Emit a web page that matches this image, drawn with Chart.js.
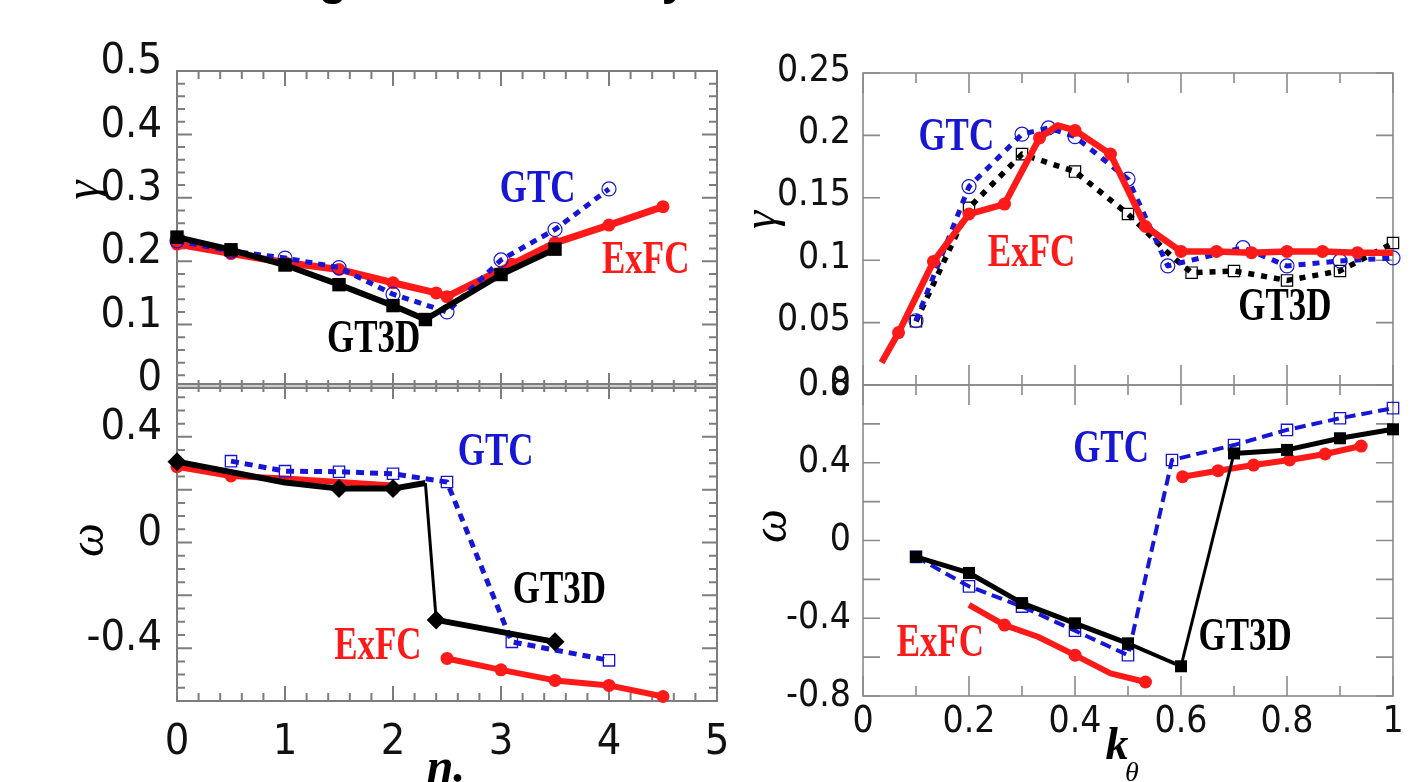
<!DOCTYPE html>
<html>
<head>
<meta charset="utf-8">
<title>gamma / omega benchmark</title>
<script src="https://cdn.jsdelivr.net/npm/chart.js@4.4.1/dist/chart.umd.min.js"></script>
<style>
  html, body { margin: 0; padding: 0; background: #fff; }
  #page { position: relative; width: 1428px; height: 782px; overflow: hidden; }
  #page canvas { position: absolute; left: 0; top: 0; }
</style>
</head>
<body>
<div id="page">
  <canvas id="etaGamma" width="1428" height="782"></canvas>
  <canvas id="etaOmega" width="1428" height="782"></canvas>
  <canvas id="kGamma" width="1428" height="782"></canvas>
  <canvas id="kOmega" width="1428" height="782"></canvas>
</div>
<script>
// ---------- left column: eta scan ----------
const etaTicks = [0, 1, 2, 3, 4, 5];
const gammaEtaTicks = [0, 0.1, 0.2, 0.3, 0.4, 0.5];
const omegaEtaTicks = [-0.4, 0, 0.4];

// growth rate vs eta
const etaGT3D = [0, 0.5, 1, 1.5, 2, 2.3, 3, 3.5];
const gammaGT3D = [0.238, 0.218, 0.194, 0.163, 0.13, 0.108, 0.179, 0.219];
const etaGTC = [0, 0.5, 1, 1.5, 2, 2.5, 3, 3.5, 4];
const gammaGTC = [0.232, 0.216, 0.205, 0.19, 0.148, 0.12, 0.202, 0.25, 0.314];
const etaExFC = [0, 0.5, 1, 1.5, 2, 2.4, 2.5, 3.1, 3.5, 4, 4.5];
const gammaExFC = [0.227, 0.212, 0.198, 0.187, 0.166, 0.15, 0.144, 0.195, 0.229, 0.257, 0.286];

// real frequency vs eta
const etaOmGT3D = [0, 1, 1.5, 2, 2.3, 2.4, 3.5];
const omegaGT3D = [0.306, 0.227, 0.204, 0.204, 0.225, -0.293, -0.376];
const etaOmGTC = [0.5, 1, 1.5, 2, 2.5, 3.1, 4];
const omegaGTC = [0.308, 0.27, 0.268, 0.26, 0.229, -0.376, -0.446];
const etaOmExFC = [0, 0.5, 1, 1.5, 2, 2.25, 2.5, 3, 3.5, 4, 4.5];
const omegaExFC = [0.287, 0.252, 0.242, 0.229, 0.216, null, -0.439, -0.482, -0.522, -0.541, -0.583];

// ---------- right column: k_theta scan ----------
const kTicks = [0, 0.2, 0.4, 0.6, 0.8, 1];
const gammaKTicks = [0, 0.05, 0.1, 0.15, 0.2, 0.25];
const omegaKTicks = [-0.8, -0.4, 0, 0.4, 0.8];

// growth rate vs k_theta
const kGT3D = [0.1, 0.2, 0.3, 0.4, 0.5, 0.58, 0.62, 0.7, 0.8, 0.9, 1];
const gammaKGT3D = [0.051, 0.142, 0.185, 0.171, 0.137, 0.104, 0.09, 0.0914, 0.0838, 0.0914, 0.1138];
const kGTC = [0.1, 0.2, 0.3, 0.35, 0.4, 0.5, 0.575, 0.717, 0.8, 0.9, 1];
const gammaKGTC = [0.0515, 0.159, 0.201, 0.206, 0.199, 0.165, 0.0954, 0.11, 0.0954, 0.0994, 0.1018];
const kExFC = [0.035, 0.067, 0.133, 0.2, 0.267, 0.333, 0.367, 0.4, 0.467, 0.533, 0.6, 0.667, 0.733, 0.8, 0.867, 0.933, 1];
const gammaKExFC = [0.018, 0.042, 0.099, 0.137, 0.145, 0.198, 0.208, 0.204, 0.185, 0.127, 0.107, 0.107, 0.106, 0.107, 0.107, 0.106, 0.106];

// real frequency vs k_theta
const kOmGT3D = [0.1, 0.2, 0.3, 0.4, 0.5, 0.6, 0.7, 0.8, 0.9, 1];
const omegaKGT3D = [-0.084, -0.167, -0.322, -0.426, -0.529, -0.647, 0.448, 0.466, 0.526, 0.572];
const kOmGTC = [0.1, 0.2, 0.3, 0.4, 0.5, 0.583, 0.7, 0.8, 0.9, 1];
const omegaKGTC = [-0.084, -0.236, -0.34, -0.464, -0.59, 0.414, 0.491, 0.569, 0.629, 0.681];
const kOmExFC = [0.2, 0.267, 0.33, 0.4, 0.467, 0.533, 0.567, 0.603, 0.67, 0.737, 0.805, 0.872, 0.94];
const omegaKExFC = [-0.331, -0.435, -0.495, -0.59, -0.684, -0.728, null, 0.328, 0.359, 0.388, 0.414, 0.445, 0.486];

// which points carry a marker (1) and which are bare line vertices (0)
const omegaGT3DMarks = [1, 0, 1, 1, 0, 1, 1];
const omegaExFCMarks = [1, 1, 0, 0, 0, 0, 1, 1, 1, 1, 1];
const gammaKGT3DMarks = [1, 1, 1, 1, 1, 0, 1, 1, 1, 1, 1];
const gammaKExFCMarks = [0, 1, 1, 1, 1, 1, 0, 1, 1, 1, 1, 1, 1, 1, 1, 1, 0];
const omegaKExFCMarks = [0, 1, 0, 1, 0, 1, 0, 1, 1, 1, 1, 1, 1];

const RED = '#ff1a1a';
const BLUE = '#1616d4';
const BLACK = '#000';
const NUM_FONT = "'Liberation Sans Narrow', 'Arial Narrow', 'DejaVu Sans Condensed', 'Liberation Sans', sans-serif";
const SERIF = "'Liberation Serif', 'DejaVu Serif', serif";
const NOTE_FONT = 'bold 46px ' + SERIF;
const NONE = 'rgba(0,0,0,0)';

function series(xs, ys, style) {
    return Object.assign({
        data: xs.map((x, i) => ({ x: x, y: ys[i] })),
        tension: 0,
        clip: false,
        spanGaps: false,
        borderCapStyle: 'butt',
        borderJoinStyle: 'round',
        pointHoverRadius: 0
    }, style);
}

const radii = (marks, r) => marks.map(m => (m ? r : 0));

// Frame with inward tick marks on all four sides
function framePlugin(spec) {
    return {
        id: 'frame',
        beforeDatasetsDraw(chart) {
            const ctx = chart.ctx;
            const a = chart.chartArea;
            const sx = chart.scales.x;
            const sy = chart.scales.y;
            ctx.save();
            if (spec.band) {
                ctx.fillStyle = '#cdcdcd';
                ctx.fillRect(a.left, a.top, a.right - a.left, spec.band);
            }
            ctx.strokeStyle = spec.color;
            ctx.lineWidth = spec.width;
            ctx.strokeRect(a.left, a.top, a.right - a.left, a.bottom - a.top);
            const walk = (scale, step, fn) => {
                const n = Math.round((scale.max - scale.min) / step);
                for (let i = 0; i <= n; i++) fn(scale.getPixelForValue(scale.min + i * step));
            };
            ctx.beginPath();
            spec.x.forEach(t => walk(sx, t.step, p => {
                ctx.moveTo(p, a.bottom); ctx.lineTo(p, a.bottom - t.len);
                ctx.moveTo(p, a.top); ctx.lineTo(p, a.top + t.len);
            }));
            spec.y.forEach(t => walk(sy, t.step, p => {
                ctx.moveTo(a.left, p); ctx.lineTo(a.left + t.len, p);
                ctx.moveTo(a.right, p); ctx.lineTo(a.right - t.len, p);
            }));
            ctx.stroke();
            ctx.restore();
        }
    };
}

// Free text: curve names (placed in data units) and axis titles (pixels)
function notesPlugin(items) {
    return {
        id: 'notes',
        afterDraw(chart) {
            const ctx = chart.ctx;
            items.forEach(n => {
                let px = n.at ? chart.scales.x.getPixelForValue(n.at[0]) : n.px;
                const py = n.at ? chart.scales.y.getPixelForValue(n.at[1]) : n.py;
                ctx.save();
                ctx.font = n.font || NOTE_FONT;
                if (n.fit) {
                    // size the cut-off heading so its two descenders land where they show in the slide
                    const f = n.fit;
                    ctx.font = f.weight + ' ' + f.size + 'px ' + f.family;
                    const w = s => ctx.measureText(s).width;
                    const span = w(f.from + f.mid) + w(f.to) / 2 - w(f.from) / 2;
                    const size = Math.round(f.size * (f.x2 - f.x1) / span);
                    ctx.font = f.weight + ' ' + size + 'px ' + f.family;
                    px = f.x1 - ctx.measureText(f.lead).width - ctx.measureText(f.from).width / 2;
                }
                ctx.translate(px, py);
                if (n.rot) ctx.rotate(n.rot);
                ctx.scale(n.sx || 1, 1);
                ctx.fillStyle = n.color || BLACK;
                ctx.textAlign = n.align || 'center';
                ctx.textBaseline = n.base || 'middle';
                ctx.fillText(n.text, 0, 0);
                ctx.restore();
            });
        }
    };
}

function makePanel(id, p) {
    const xAxisH = p.xTicks ? 782 - p.box.bottom : 0;
    return new Chart(document.getElementById(id), {
        type: 'line',
        data: { datasets: p.datasets },
        options: {
            responsive: false,
            animation: false,
            events: [],
            layout: {
                padding: {
                    left: p.box.left - p.yAxisW,
                    top: p.box.top,
                    right: 1428 - p.box.right,
                    bottom: 782 - p.box.bottom - xAxisH
                }
            },
            plugins: { legend: { display: false }, tooltip: { enabled: false } },
            scales: {
                x: {
                    type: 'linear',
                    min: p.xMin,
                    max: p.xMax,
                    display: !!p.xTicks,
                    grid: { display: false, drawTicks: false },
                    border: { display: false },
                    ticks: {
                        display: !!p.xTicks,
                        color: '#111',
                        font: { family: NUM_FONT, size: p.tickSize, lineHeight: 1 },
                        padding: p.xPad || 0,
                        maxRotation: 0,
                        autoSkip: false,
                        callback: v => String(v)
                    },
                    afterBuildTicks: s => { if (p.xTicks) s.ticks = p.xTicks.map(v => ({ value: v })); },
                    afterFit: s => { s.height = xAxisH; }
                },
                y: {
                    type: 'linear',
                    min: p.yMin,
                    max: p.yMax,
                    grid: { display: false, drawTicks: false },
                    border: { display: false },
                    ticks: {
                        color: '#111',
                        font: { family: NUM_FONT, size: p.tickSize, lineHeight: 1 },
                        padding: p.yPad,
                        labelOffset: p.labelOffset || 0,
                        autoSkip: false,
                        callback: v => String(v)
                    },
                    afterBuildTicks: s => { s.ticks = p.yTicks.map(v => ({ value: v })); },
                    afterFit: s => { s.width = p.yAxisW; }
                }
            }
        },
        plugins: [framePlugin(p.frame), notesPlugin(p.notes)]
    });
}

const leftFrameX = [{ step: 0.2, len: 8 }, { step: 1, len: 15 }];
const rightFrameX = [{ step: 0.1, len: 10 }, { step: 0.2, len: 20 }];

// ---- left top: gamma vs eta ----
makePanel('etaGamma', {
    box: { left: 177, top: 71, right: 717, bottom: 388 },
    xMin: 0, xMax: 5, yMin: 0, yMax: 0.5,
    xTicks: null, yTicks: gammaEtaTicks,
    yAxisW: 160, yPad: 15, labelOffset: -9, tickSize: 43,
    frame: { color: '#7d7d7d', width: 2, x: leftFrameX, y: [{ step: 0.02, len: 8 }, { step: 0.1, len: 15 }] },
    datasets: [
        series(etaGT3D, gammaGT3D, {
            label: 'GT3D', order: 1, borderColor: BLACK, borderWidth: 6,
            pointStyle: 'rect', pointRadius: 9.5, pointBackgroundColor: BLACK, pointBorderWidth: 0
        }),
        series(etaGTC, gammaGTC, {
            label: 'GTC', order: 2, borderColor: BLUE, borderWidth: 5, borderDash: [7, 6],
            pointStyle: 'circle', pointRadius: 7, pointBackgroundColor: NONE,
            pointBorderColor: BLUE, pointBorderWidth: 1.2
        }),
        series(etaExFC, gammaExFC, {
            label: 'ExFC', order: 3, borderColor: RED, borderWidth: 7,
            pointStyle: 'circle', pointRadius: 6.5, pointBackgroundColor: RED, pointBorderWidth: 0
        })
    ],
    notes: [
        { text: 'Benchmarking of ITG mode by three codes', py: -5, align: 'left', base: 'alphabetic',
          fit: { lead: 'Benchmarkin', from: 'g', mid: ' of ITG mode b', to: 'y', x1: 333, x2: 677,
                 size: 46, weight: 'bold', family: "'Liberation Sans', Arial, sans-serif" } },
        { text: 'GTC', at: [3.34, 0.312], color: BLUE, sx: 0.76 },
        { text: 'ExFC', at: [4.34, 0.2], color: RED, sx: 0.76 },
        { text: 'GT3D', at: [1.82, 0.075], color: BLACK, sx: 0.76 },
        { text: 'γ', px: 85, py: 190, rot: -Math.PI / 2, font: 'italic 48px ' + SERIF }
    ]
});

// ---- left bottom: omega vs eta ----
makePanel('etaOmega', {
    box: { left: 177, top: 384, right: 717, bottom: 701 },
    xMin: 0, xMax: 5, yMin: -0.6, yMax: 0.6,
    xTicks: etaTicks, yTicks: omegaEtaTicks,
    yAxisW: 160, yPad: 15, labelOffset: -9, tickSize: 43, xPad: 20,
    frame: { color: '#7d7d7d', width: 2, band: 3, x: leftFrameX, y: [{ step: 0.05, len: 8 }, { step: 0.2, len: 15 }] },
    datasets: [
        series(etaOmGT3D, omegaGT3D, {
            label: 'GT3D', order: 1, borderColor: BLACK, borderWidth: 6,
            segment: { borderWidth: c => (c.p0DataIndex === 4 ? 3 : 6) },
            pointStyle: 'rectRot', pointRadius: radii(omegaGT3DMarks, 9.5),
            pointBackgroundColor: BLACK, pointBorderWidth: 0
        }),
        series(etaOmGTC, omegaGTC, {
            label: 'GTC', order: 2, borderColor: BLUE, borderWidth: 5, borderDash: [8, 6],
            pointStyle: 'rect', pointRadius: 8, pointBackgroundColor: NONE,
            pointBorderColor: BLUE, pointBorderWidth: 1.3
        }),
        series(etaOmExFC, omegaExFC, {
            label: 'ExFC', order: 3, borderColor: RED, borderWidth: 6,
            pointStyle: 'circle', pointRadius: radii(omegaExFCMarks, 6.5),
            pointBackgroundColor: RED, pointBorderWidth: 0
        })
    ],
    notes: [
        { text: 'GTC', at: [2.95, 0.338], color: BLUE, sx: 0.76 },
        { text: 'GT3D', at: [3.54, -0.185], color: BLACK, sx: 0.76 },
        { text: 'ExFC', at: [1.86, -0.395], color: RED, sx: 0.76 },
        { text: 'ω', px: 90, py: 540, rot: -Math.PI / 2, font: 'italic 48px ' + SERIF },
        { text: 'η.', px: 446, py: 770, font: 'bold italic 48px ' + SERIF }
    ]
});

// ---- right top: gamma vs k_theta ----
makePanel('kGamma', {
    box: { left: 863, top: 73, right: 1393, bottom: 385 },
    xMin: 0, xMax: 1, yMin: 0, yMax: 0.25,
    xTicks: null, yTicks: gammaKTicks,
    yAxisW: 140, yPad: 12, labelOffset: -2, tickSize: 37,
    frame: { color: '#8a8a8a', width: 1.6, x: rightFrameX, y: [{ step: 0.05, len: 17 }] },
    datasets: [
        series(kExFC, gammaKExFC, {
            label: 'ExFC', order: 1, borderColor: RED, borderWidth: 6.5,
            pointStyle: 'circle', pointRadius: radii(gammaKExFCMarks, 6.5),
            pointBackgroundColor: RED, pointBorderWidth: 0
        }),
        series(kGTC, gammaKGTC, {
            label: 'GTC', order: 2, borderColor: BLUE, borderWidth: 5, borderDash: [7, 7],
            pointStyle: 'circle', pointRadius: 7, pointBackgroundColor: NONE,
            pointBorderColor: BLUE, pointBorderWidth: 1.2
        }),
        series(kGT3D, gammaKGT3D, {
            label: 'GT3D', order: 3, borderColor: BLACK, borderWidth: 5.5, borderDash: [6, 7],
            pointStyle: 'rect', pointRadius: radii(gammaKGT3DMarks, 8), pointBackgroundColor: NONE,
            pointBorderColor: BLACK, pointBorderWidth: 1.2
        })
    ],
    notes: [
        { text: 'GTC', at: [0.176, 0.198], color: BLUE, sx: 0.76 },
        { text: 'ExFC', at: [0.318, 0.105], color: RED, sx: 0.76 },
        { text: 'GT3D', at: [0.796, 0.062], color: BLACK, sx: 0.76 },
        { text: 'γ', px: 763, py: 220, rot: -Math.PI / 2, font: 'italic 46px ' + SERIF }
    ]
});

// ---- right bottom: omega vs k_theta ----
makePanel('kOmega', {
    box: { left: 863, top: 385, right: 1393, bottom: 696 },
    xMin: 0, xMax: 1, yMin: -0.8, yMax: 0.8,
    xTicks: kTicks, yTicks: omegaKTicks,
    yAxisW: 140, yPad: 12, labelOffset: 0, tickSize: 37, xPad: 8,
    frame: { color: '#8a8a8a', width: 1.6, x: rightFrameX, y: [{ step: 0.2, len: 17 }] },
    datasets: [
        series(kOmGT3D, omegaKGT3D, {
            label: 'GT3D', order: 1, borderColor: BLACK, borderWidth: 5,
            segment: { borderWidth: c => (c.p0DataIndex === 5 ? 3 : c.p0DataIndex === 4 ? 4 : 5) },
            pointStyle: 'rect', pointRadius: 8.5, pointBackgroundColor: BLACK, pointBorderWidth: 0
        }),
        series(kOmGTC, omegaKGTC, {
            label: 'GTC', order: 2, borderColor: BLUE, borderWidth: 4, borderDash: [11, 6],
            pointStyle: 'rect', pointRadius: 8, pointBackgroundColor: NONE,
            pointBorderColor: BLUE, pointBorderWidth: 1.3
        }),
        series(kOmExFC, omegaKExFC, {
            label: 'ExFC', order: 3, borderColor: RED, borderWidth: 6,
            pointStyle: 'circle', pointRadius: radii(omegaKExFCMarks, 6.5),
            pointBackgroundColor: RED, pointBorderWidth: 0
        })
    ],
    notes: [
        { text: 'GTC', at: [0.468, 0.466], color: BLUE, sx: 0.76 },
        { text: 'GT3D', at: [0.721, -0.5], color: BLACK, sx: 0.76 },
        { text: 'ExFC', at: [0.146, -0.534], color: RED, sx: 0.76 },
        { text: 'ω', px: 773, py: 526, rot: -Math.PI / 2, font: 'italic 48px ' + SERIF },
        { text: 'k', px: 1117, py: 747, font: 'bold italic 46px ' + SERIF },
        { text: 'θ', px: 1132, py: 774, font: 'italic 28px ' + SERIF }
    ]
});
</script>
</body>
</html>
